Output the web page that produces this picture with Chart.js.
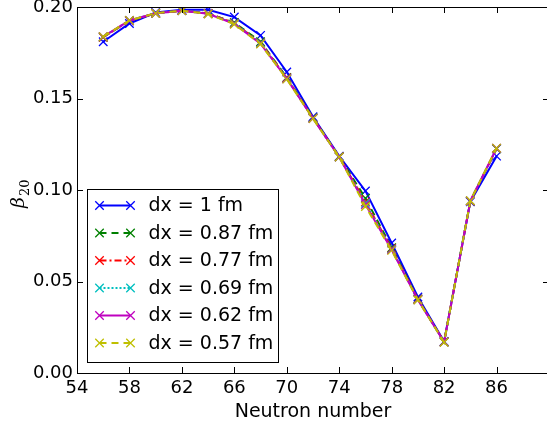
<!DOCTYPE html>
<html>
<head>
<meta charset="utf-8">
<script src="https://cdn.jsdelivr.net/npm/chart.js@4.4.0/dist/chart.umd.min.js"></script>
<style>
  html, body { margin: 0; padding: 0; background: #fff; overflow: hidden; }
  #wrap { position: absolute; left: 0; top: -10px; width: 560px; height: 437px; }
</style>
</head>
<body>
<div id="wrap"><canvas id="myChart" width="560" height="437"></canvas></div>
<script>
// neutron numbers on the x axis
const neutrons = [56, 58, 60, 62, 64, 66, 68, 70, 72, 74, 76, 78, 80, 82, 84, 86];

// beta_20 for each grid spacing
const dx100 = [0.181, 0.191, 0.197, 0.1985, 0.1985, 0.1945, 0.1845, 0.1645, 0.140, 0.1185, 0.0995, 0.0710, 0.0415, 0.0172, 0.0936, 0.1185];
const dx087 = [0.1835, 0.1925, 0.1965, 0.198, 0.1965, 0.1915, 0.181, 0.1615, 0.1395, 0.1182, 0.0955, 0.0685, 0.0405, 0.0170, 0.0940, 0.1225];
const dx077 = [0.1835, 0.1925, 0.1965, 0.198, 0.1965, 0.1912, 0.1805, 0.1612, 0.1393, 0.1181, 0.0935, 0.0680, 0.0403, 0.0170, 0.0940, 0.1226];
const dx069 = [0.1837, 0.1926, 0.1966, 0.198, 0.1964, 0.1910, 0.1803, 0.1610, 0.1392, 0.1180, 0.0928, 0.0676, 0.0401, 0.0169, 0.0940, 0.1227];
const dx062 = [0.1838, 0.1926, 0.1966, 0.198, 0.1963, 0.1908, 0.1800, 0.1608, 0.1391, 0.1180, 0.0920, 0.0673, 0.0400, 0.0169, 0.0940, 0.1228];
const dx057 = [0.1838, 0.1927, 0.1966, 0.198, 0.1962, 0.1906, 0.1798, 0.1606, 0.1390, 0.1180, 0.0910, 0.0670, 0.0399, 0.0168, 0.0941, 0.1229];

const seriesLabels = ['dx = 1 fm', 'dx = 0.87 fm', 'dx = 0.77 fm', 'dx = 0.69 fm', 'dx = 0.62 fm', 'dx = 0.57 fm'];
const seriesData = [dx100, dx087, dx077, dx069, dx062, dx057];
const seriesColors = ['#0000ff', '#008000', '#ff0000', '#00bfbf', '#bf00bf', '#bfbf00'];
const seriesDashes = [[], [7, 5], [7, 3, 2, 3], [2, 2], [], [7, 5]];

const xTicks = [54, 58, 62, 66, 70, 74, 78, 82, 86, 90];
const yTicks = [0.00, 0.05, 0.10, 0.15, 0.20];

const FONT = 'DejaVu Sans';

const datasets = seriesData.map((vals, i) => ({
    label: seriesLabels[i],
    data: neutrons.map((n, j) => ({ x: n, y: vals[j] })),
    borderColor: seriesColors[i],
    backgroundColor: seriesColors[i],
    borderDash: seriesDashes[i],
    borderWidth: 2,
    pointStyle: 'crossRot',
    pointRadius: 6,
    pointBorderWidth: 1.3,
    pointHoverRadius: 6,
    tension: 0,
    order: seriesData.length - i   // last series drawn on top
}));

// inward ticks + full box, like matplotlib
const boxTicks = {
    id: 'boxTicks',
    afterDatasetsDraw(chart) {
        const ctx = chart.ctx;
        const a = chart.chartArea;
        const xs = chart.scales.x, ys = chart.scales.y;
        const len = 6;
        ctx.save();
        ctx.strokeStyle = '#000';
        ctx.lineWidth = 1;
        ctx.beginPath();
        xTicks.forEach(t => {
            const px = Math.round(xs.getPixelForValue(t)) + 0.5;
            ctx.moveTo(px, a.bottom); ctx.lineTo(px, a.bottom - len);
            ctx.moveTo(px, a.top); ctx.lineTo(px, a.top + len);
        });
        yTicks.forEach(t => {
            const py = Math.round(ys.getPixelForValue(t)) + 0.5;
            ctx.moveTo(a.left, py); ctx.lineTo(a.left + len, py);
            ctx.moveTo(a.right, py); ctx.lineTo(a.right - len, py);
        });
        ctx.stroke();
        ctx.strokeRect(Math.round(a.left) + 0.5, Math.round(a.top) + 0.5,
                       Math.round(a.right - a.left), Math.round(a.bottom - a.top));
        ctx.restore();
    },
    afterDraw(chart) {
        const ctx = chart.ctx;
        const a = chart.chartArea;

        // y axis label: beta with subscript 20, rotated
        ctx.save();
        ctx.translate(24, (a.top + a.bottom) / 2 + 18);
        ctx.rotate(-Math.PI / 2);
        ctx.fillStyle = '#000';
        ctx.textBaseline = 'alphabetic';
        ctx.font = 'italic 19px "DejaVu Serif"';
        ctx.fillText('β', 0, 0);
        const bw = ctx.measureText('β').width;
        ctx.font = '13px "DejaVu Serif"';
        ctx.fillText('20', bw + 1, 5);
        ctx.restore();

        // legend box in lower left corner
        const bx = a.left + 10.5, bwid = 191, bh = 173;
        const by = a.bottom - 10.5 - bh;
        ctx.save();
        ctx.fillStyle = '#fff';
        ctx.fillRect(bx, by, bwid, bh);
        ctx.strokeStyle = '#000';
        ctx.lineWidth = 1;
        ctx.strokeRect(bx, by, bwid, bh);
        ctx.font = '19px "' + FONT + '"';
        ctx.textBaseline = 'middle';
        chart.data.datasets.forEach((ds, i) => {
            const cy = by + 16 + i * 27.5;
            const x0 = bx + 12, x1 = bx + 43;
            ctx.strokeStyle = ds.borderColor;
            ctx.lineWidth = 2;
            ctx.setLineDash(ds.borderDash);
            ctx.beginPath(); ctx.moveTo(x0, cy); ctx.lineTo(x1, cy); ctx.stroke();
            ctx.setLineDash([]);
            ctx.lineWidth = 1.3;
            [x0, x1].forEach(px => {
                const r = 6 * Math.SQRT1_2;
                ctx.beginPath();
                ctx.moveTo(px - r, cy - r); ctx.lineTo(px + r, cy + r);
                ctx.moveTo(px - r, cy + r); ctx.lineTo(px + r, cy - r);
                ctx.stroke();
            });
            ctx.fillStyle = '#000';
            ctx.fillText(ds.label, bx + 61, cy + 1);
        });
        ctx.restore();
    }
};

const ctx = document.getElementById('myChart').getContext('2d');
const chart = new Chart(ctx, {
    type: 'line',
    data: { datasets: datasets },
    options: {
        responsive: false,
        animation: false,
        layout: { padding: { top: 17, right: 11, left: 0, bottom: 0 } },
        plugins: { legend: { display: false }, tooltip: { enabled: false } },
        scales: {
            x: {
                type: 'linear',
                min: 54, max: 90,
                afterFit(scale) { scale.height = 54; },
                afterBuildTicks(scale) { scale.ticks = xTicks.map(v => ({ value: v })); },
                grid: { display: false, drawTicks: false },
                border: { display: false },
                ticks: {
                    padding: 5,
                    color: '#000',
                    font: { family: FONT, size: 18 },
                    maxRotation: 0,
                    callback: v => (v === 90 ? '' : String(v))
                },
                title: {
                    display: true,
                    text: 'Neutron number',
                    color: '#000',
                    font: { family: FONT, size: 19 },
                    padding: { top: 0, bottom: 4 }
                }
            },
            y: {
                type: 'linear',
                min: 0, max: 0.2,
                afterFit(scale) { scale.width = 77; },
                afterBuildTicks(scale) { scale.ticks = yTicks.map(v => ({ value: v })); },
                grid: { display: false, drawTicks: false },
                border: { display: false },
                ticks: {
                    padding: 4,
                    color: '#000',
                    font: { family: FONT, size: 18 },
                    callback: v => Number(v).toFixed(2)
                },
                title: { display: false }
            }
        }
    },
    plugins: [boxTicks]
});
</script>
</body>
</html>
